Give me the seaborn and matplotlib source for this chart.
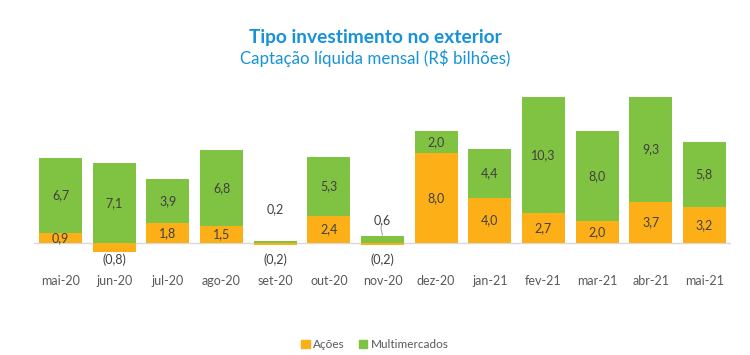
import pandas as pd
import numpy as np
import matplotlib.pyplot as plt
import seaborn as sns

# dados (R$ bilhões)
meses = ['mai-20', 'jun-20', 'jul-20', 'ago-20', 'set-20', 'out-20', 'nov-20',
         'dez-20', 'jan-21', 'fev-21', 'mar-21', 'abr-21', 'mai-21']
acoes = [0.9, -0.8, 1.8, 1.5, -0.2, 2.4, -0.2, 8.0, 4.0, 2.7, 2.0, 3.7, 3.2]
multimercados = [6.7, 7.1, 3.9, 6.8, 0.2, 5.3, 0.6, 2.0, 4.4, 10.3, 8.0, 9.3, 5.8]

cor_acoes = '#FDAF17'
cor_multi = '#80C342'
cor_texto = '#404040'


def fmt(v):
    s = f'{abs(v):.1f}'.replace('.', ',')
    return f'({s})' if v < 0 else s


df = pd.DataFrame({'mes': meses, 'acoes': acoes, 'multi': multimercados})
df['base'] = df['acoes'].clip(lower=0)
df['total'] = df['base'] + df['multi']

sns.set_theme(style='white')
plt.rcParams['font.family'] = ['Lato', 'DejaVu Sans']

fig = plt.figure(figsize=(7.5, 3.55), dpi=100)
ax = fig.add_axes([0.045, 0.268, 0.93, 0.49])

# empilhado: verde com altura total, laranja por cima
sns.barplot(data=df, x='mes', y='total', color=cor_multi, width=0.8,
            saturation=1, linewidth=0, edgecolor='none', ax=ax)
sns.barplot(data=df, x='mes', y='acoes', color=cor_acoes, width=0.8,
            saturation=1, linewidth=0, edgecolor='none', ax=ax)

ax.axhline(0, color='#D9D9D9', linewidth=1.0, zorder=0.5)
ax.set_ylim(-1.5, 14)
ax.set_xlim(-0.5, len(meses) - 0.5)
ax.set_yticks([])
ax.set_xlabel('')
ax.set_ylabel('')
ax.tick_params(axis='x', length=0, pad=11, labelsize=9, labelcolor='#595959')
sns.despine(ax=ax, left=True, bottom=True)

# rótulos
for i, r in df.iterrows():
    if r['acoes'] >= 0:
        ax.text(i, r['acoes'] / 2, fmt(r['acoes']), ha='center', va='center',
                fontsize=9, color=cor_texto)
    else:
        ax.text(i, -1.45, fmt(r['acoes']), ha='center', va='center',
                fontsize=9, color=cor_texto)
    if r['multi'] >= 1:
        ax.text(i, r['base'] + r['multi'] / 2, fmt(r['multi']), ha='center',
                va='center', fontsize=9, color=cor_texto)
    else:
        y_txt = r['total'] + (2.8 if r['multi'] < 0.4 else 1.4)
        ax.text(i, y_txt, fmt(r['multi']), ha='center', va='center',
                fontsize=9, color=cor_texto)
        if r['multi'] >= 0.4:
            ax.plot([i, i - 0.03], [r['total'] + 0.1, r['total'] + 0.8],
                    color='#A6A6A6', linewidth=0.8)

fig.text(0.5, 0.895, 'Tipo investimento no exterior', ha='center', va='center',
         fontsize=13.8, fontweight='bold', color='#1592D8')
fig.text(0.5, 0.835, 'Captação líquida mensal (R$ bilhões)', ha='center',
         va='center', fontsize=12.2, color='#1592D8')

handles = [plt.Rectangle((0, 0), 1, 1, color=cor_acoes),
           plt.Rectangle((0, 0), 1, 1, color=cor_multi)]
fig.legend(handles, ['Ações', 'Multimercados'], loc='center',
           bbox_to_anchor=(0.5, 0.03), ncol=2, frameon=False, fontsize=8.5,
           handlelength=0.7, handleheight=0.7, handletextpad=0.3,
           columnspacing=1.2, labelcolor='#595959')

fig.savefig('out.png', dpi=100)
